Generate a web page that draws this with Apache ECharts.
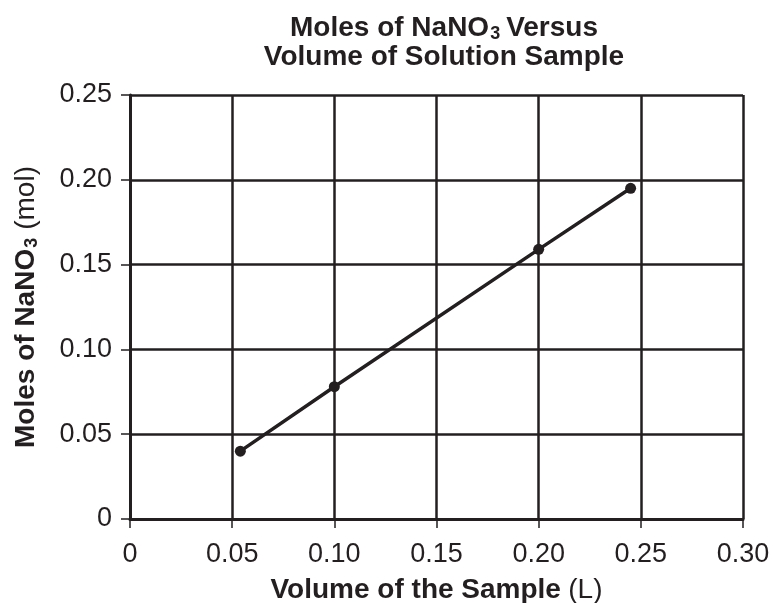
<!DOCTYPE html>
<html style="height: 100%">
<head>
    <meta charset="utf-8">
</head>
<body style="height: 100%; margin: 0; background: #fff">
    <div id="container" style="height: 100%"></div>
    <script src="https://cdn.jsdelivr.net/npm/echarts@6/dist/echarts.min.js"></script>
    <script type="text/javascript">
        // volume (L) vs moles of NaNO3 (mol)
        var volume = [0.054, 0.10, 0.20, 0.245];
        var moles = [0.040, 0.078, 0.159, 0.195];
        var xTicks = ['0', '0.05', '0.10', '0.15', '0.20', '0.25', '0.30'];
        var yTicks = ['0', '0.05', '0.10', '0.15', '0.20', '0.25'];

        var font = '"Liberation Sans", Arial, Helvetica, sans-serif';
        var ink = '#231f20';

        var dom = document.getElementById('container');
        var myChart = echarts.init(dom);

        var points = volume.map(function (v, i) { return [v, moles[i]]; });

        var option = {
            animation: false,
            backgroundColor: '#fff',
            title: {
                text: '{b|Moles of NaNO}{s|3}{b|Versus}\n{b|Volume of Solution Sample}',
                left: 439,
                top: 9,
                textAlign: 'center',
                textStyle: {
                    fontFamily: font,
                    rich: {
                        b: { fontSize: 28, fontWeight: 'bold', color: ink, fontFamily: font, lineHeight: 29 },
                        s: { fontSize: 18, fontWeight: 'bold', color: ink, fontFamily: font, lineHeight: 29, verticalAlign: 'bottom', padding: [0, 6, 0, 1] }
                    }
                }
            },
            grid: {
                left: 130,
                right: 30,
                top: 95,
                bottom: 84,
                containLabel: false,
                outerBoundsMode: 'none'
            },
            xAxis: {
                type: 'value',
                min: 0,
                max: 0.30,
                interval: 0.05,
                name: '{b|Volume of the Sample} {r|(L)}',
                nameLocation: 'middle',
                nameGap: 57,
                nameTextStyle: {
                    rich: {
                        b: { fontSize: 28, fontWeight: 'bold', color: ink, fontFamily: font },
                        r: { fontSize: 28, color: ink, fontFamily: font, padding: [0, 0, 0, 4] }
                    }
                },
                axisLine: { show: true, onZero: false, lineStyle: { color: ink, width: 3 } },
                axisTick: { show: true, length: 9, lineStyle: { color: ink, width: 1.5 } },
                axisLabel: {
                    margin: 22,
                    fontSize: 27,
                    color: ink,
                    fontFamily: font,
                    formatter: function (v) { return xTicks[Math.round(v / 0.05)]; }
                },
                splitLine: { show: true, lineStyle: { color: ink, width: 2.5 } }
            },
            yAxis: {
                type: 'value',
                min: 0,
                max: 0.25,
                interval: 0.05,
                name: '{b|Moles of NaNO}{s|3}{r|(mol)}',
                nameLocation: 'middle',
                nameRotate: 90,
                nameGap: 89,
                nameTextStyle: {
                    rich: {
                        b: { fontSize: 28, fontWeight: 'bold', color: ink, fontFamily: font, lineHeight: 30 },
                        s: { fontSize: 18, fontWeight: 'bold', color: ink, fontFamily: font, lineHeight: 30, verticalAlign: 'bottom', padding: [0, 8, 0, 1] },
                        r: { fontSize: 28, color: ink, fontFamily: font, lineHeight: 30 }
                    }
                },
                axisLine: { show: true, onZero: false, lineStyle: { color: ink, width: 3 } },
                axisTick: { show: true, length: 9, lineStyle: { color: ink, width: 1.5 } },
                axisLabel: {
                    margin: 18,
                    fontSize: 27,
                    color: ink,
                    fontFamily: font,
                    formatter: function (v) { return yTicks[Math.round(v / 0.05)]; }
                },
                splitLine: { show: true, lineStyle: { color: ink, width: 2.5 } }
            },
            series: [{
                type: 'line',
                data: points,
                symbol: 'circle',
                symbolSize: 11,
                lineStyle: { color: ink, width: 3.5 },
                itemStyle: { color: ink },
                z: 5
            }]
        };

        myChart.setOption(option);
    </script>
</body>
</html>
